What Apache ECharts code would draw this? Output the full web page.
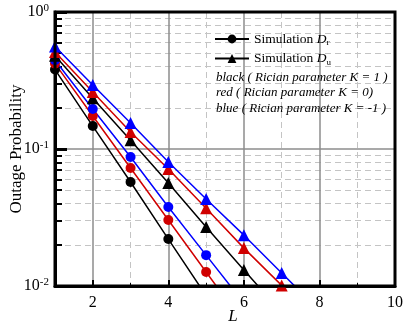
<!DOCTYPE html>
<html><head><meta charset="utf-8">
<script src="https://cdn.jsdelivr.net/npm/echarts@6/dist/echarts.min.js"></script>
<style>html,body{margin:0;padding:0;background:#fff}#c{width:404px;height:322px}</style>
</head><body><div id="c"></div>
<script>
// ---- data ----
const L = [1, 2, 3, 4, 5, 6, 7, 8];
const drK1  = [0.38, 0.147, 0.0574, 0.022, 0.0085];
const drK0  = [0.42, 0.174, 0.0726, 0.0303, 0.01265, 0.0053];
const drKm1 = [0.445, 0.196, 0.0875, 0.0377, 0.0168, 0.0075];
const duK1  = [0.48, 0.235, 0.116, 0.0565, 0.027, 0.0131, 0.0064];
const duK0  = [0.51, 0.261, 0.133, 0.0714, 0.037, 0.0189, 0.0101];
const duKm1 = [0.56, 0.293, 0.155, 0.0803, 0.0431, 0.0235, 0.01245, 0.0066];
const xTickLabels = [2, 4, 6, 8, 10];
const xMajorTicks = [2, 4, 6, 8];
const xMinorTicks = [3, 5, 7, 9];
const yTickLabels = {1: '0', 0.1: '-1', 0.01: '-2'};
const notes = ['black ( Rician parameter K = 1 )', 'red ( Rician parameter K = 0)', 'blue ( Rician parameter K = -1 )'];

const FONT = 'Liberation Serif';
const BLACK = '#000', RED = '#d00000', BLUE = '#0000ff';
function pts(arr) { return arr.map((v, i) => [L[i], v]); }
function mk(name, arr, color, symbol) {
  return {
    name: name, type: 'line', data: pts(arr), xAxisIndex: 0, yAxisIndex: 0,
    symbol: symbol, symbolSize: symbol === 'circle' ? 10 : 12,
    lineStyle: {color: color, width: 1.5}, itemStyle: {color: color},
    clip: true, z: 5, animation: false
  };
}
const chart = echarts.init(document.getElementById('c'), null, {renderer: 'canvas'});
chart.setOption({
  animation: false,
  textStyle: {fontFamily: FONT},
  grid: {left: 55, right: 9, top: 12, bottom: 36, containLabel: false, outerBoundsMode: 'none', show: true, borderColor: '#000', borderWidth: 3, z: 10, backgroundColor: 'transparent'},
  legend: {
    data: ['Dr', 'Du'], orient: 'vertical', left: 209, top: 27, itemGap: 4,
    itemWidth: 34, itemHeight: 11,
    textStyle: {fontFamily: FONT, fontSize: 13.5, color: '#000',
      rich: {i: {fontFamily: FONT, fontStyle: 'italic', fontSize: 13.5}, sub: {fontFamily: FONT, fontSize: 9, verticalAlign: 'bottom', padding: [8, 0, 0, 0]}}},
    formatter: function (n) { return n === 'Dr' ? 'Simulation {i|D}{sub|r}' : 'Simulation {i|D}{sub|u}'; }
  },
  graphic: notes.map((t, i) => ({
    type: 'text', left: 216, top: 71 + i * 15.5, z: 20,
    style: {text: t, font: 'italic 13px "Liberation Serif"', fill: '#000'}
  })),
  xAxis: [{
    type: 'value', min: 1, max: 10, position: 'bottom',
    name: 'L', nameLocation: 'middle', nameGap: 22, nameMoveOverlap: false,
    nameTextStyle: {fontFamily: FONT, fontStyle: 'italic', fontSize: 17, color: '#000', padding: [0, 0, 0, 16]},
    axisLine: {show: true, lineStyle: {color: '#000', width: 3}},
    axisTick: {show: true, inside: true, length: 6, customValues: xMajorTicks, lineStyle: {color: '#000', width: 2}},
    axisLabel: {customValues: xTickLabels, fontFamily: FONT, fontSize: 16, color: '#000', margin: 9},
    splitLine: {show: true, lineStyle: {color: '#8c8c8c', width: 1.5}}
  }, {
    type: 'value', min: 1, max: 10, position: 'bottom',
    axisLine: {show: false},
    axisTick: {show: true, inside: true, length: 3, customValues: xMinorTicks, lineStyle: {color: '#000', width: 1}},
    axisLabel: {show: false},
    splitLine: {show: true, lineStyle: {color: '#c4c4c4', width: 1, type: [6, 4]}}
  }],
  yAxis: [{
    type: 'log', logBase: 10, min: 0.01, max: 1,
    name: 'Outage Probability', nameLocation: 'middle', nameGap: 30, nameMoveOverlap: false,
    nameTextStyle: {fontFamily: FONT, fontSize: 17, color: '#000'},
    axisLine: {show: true, lineStyle: {color: '#000', width: 3}},
    axisTick: {show: true, inside: true, length: 12, lineStyle: {color: '#000', width: 3}},
    minorTick: {show: true, splitNumber: 9, length: 7, lineStyle: {color: '#000', width: 2}},
    axisLabel: {
      fontFamily: FONT, fontSize: 16, color: '#000', margin: 6,
      formatter: function (v) { const k = Object.keys(yTickLabels).find(kk => Math.abs(+kk - v) < 1e-9); return '10{sup|' + (k ? yTickLabels[k] : '') + '}'; },
      rich: {sup: {fontFamily: FONT, fontSize: 11, verticalAlign: 'top', padding: [0, 0, 8, 0]}}
    },
    splitLine: {show: true, lineStyle: {color: '#8c8c8c', width: 1.5}},
    minorSplitLine: {show: true, lineStyle: {color: '#c4c4c4', width: 1, type: [6, 4]}}
  }],
  series: [
    mk('K1r', drK1, BLACK, 'circle'),
    mk('K0r', drK0, RED, 'circle'),
    mk('Km1r', drKm1, BLUE, 'circle'),
    mk('K1u', duK1, BLACK, 'triangle'),
    mk('K0u', duK0, RED, 'triangle'),
    mk('Km1u', duKm1, BLUE, 'triangle'),
    // legend proxies (black)
    {name: 'Dr', type: 'line', data: [], symbol: 'circle', symbolSize: 10, lineStyle: {color: BLACK, width: 1.5}, itemStyle: {color: BLACK}},
    {name: 'Du', type: 'line', data: [], symbol: 'triangle', symbolSize: 12, lineStyle: {color: BLACK, width: 1.5}, itemStyle: {color: BLACK}}
  ]
});
</script></body></html>
